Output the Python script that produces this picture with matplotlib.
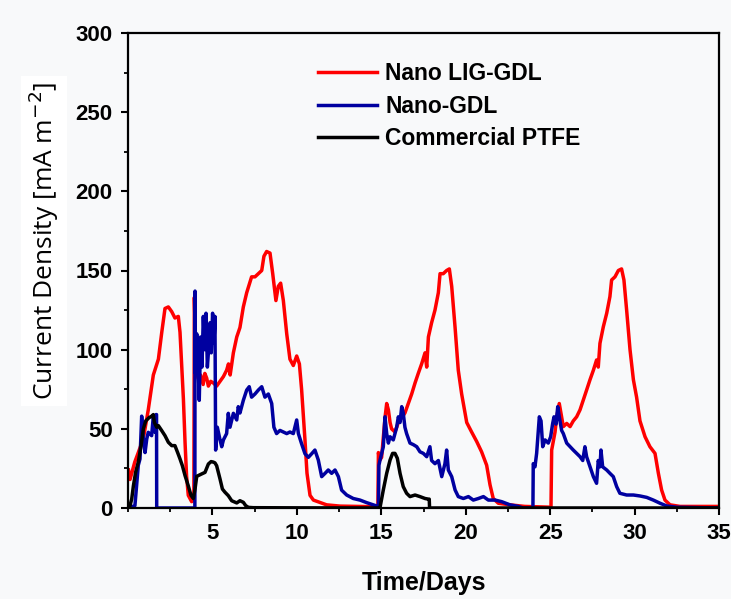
import matplotlib
matplotlib.use("Agg")
import matplotlib.pyplot as plt
from matplotlib.ticker import MultipleLocator

# ---------------- data ----------------
red_days = [0.03, 0.12, 0.22, 0.40, 0.61, 0.91, 1.20, 1.50, 1.80, 2.00, 2.19, 2.39, 2.59, 2.78,
            2.98, 3.08, 3.18, 3.28, 3.38, 3.47, 3.57, 3.77, 3.90, 3.93, 4.03, 4.15, 4.30, 4.45,
            4.55, 4.66, 4.76, 4.90, 5.05, 5.25, 5.45, 5.65, 5.84, 5.95, 6.05, 6.24, 6.44, 6.63,
            6.83, 7.03, 7.32, 7.52, 7.72, 7.92, 8.05, 8.21, 8.41, 8.57, 8.76, 8.90, 9.04, 9.20,
            9.40, 9.59, 9.79, 9.99, 10.15, 10.28, 10.48, 10.60, 10.78, 10.98, 11.76, 12.55, 14.13,
            14.80, 14.83, 14.90, 15.02, 15.22, 15.32, 15.42, 15.52, 15.61, 15.81, 16.01, 16.21,
            16.40, 16.60, 16.80, 17.00, 17.19, 17.39, 17.59, 17.69, 17.79, 17.98, 18.18, 18.38,
            18.48, 18.67, 18.87, 19.03, 19.17, 19.37, 19.56, 19.76, 20.06, 20.35, 20.65, 20.94,
            21.24, 21.44, 21.63, 21.93, 22.62, 23.50, 25.05, 25.09, 25.29, 25.39, 25.54, 25.68,
            25.78, 25.98, 26.18, 26.37, 26.57, 26.77, 26.96, 27.16, 27.36, 27.56, 27.75, 27.85,
            27.95, 28.15, 28.35, 28.54, 28.64, 28.84, 29.04, 29.23, 29.37, 29.53, 29.73, 29.93,
            30.12, 30.32, 30.62, 30.91, 31.21, 31.41, 31.60, 31.80, 32.10, 32.69, 35.00]
red_vals = [24, 18, 22, 29, 35, 44, 62, 84, 94, 111, 126, 127, 124, 120,
            121, 111, 90, 69, 41, 20, 8, 4, 5, 133, 89, 82, 84, 78,
            85, 82, 77, 80, 79, 77, 80, 83, 87, 91, 84, 98, 108, 114,
            127, 136, 146, 146, 148, 150, 159, 162, 161, 148, 131, 140, 142, 131,
            110, 94, 90, 96, 91, 75, 43, 22, 8, 5, 2, 1.2, 0.9,
            1, 35, 30, 32, 57, 66, 62, 54, 50, 48, 54, 57,
            60, 66, 72, 79, 85, 91, 98, 89, 108, 117, 125, 136,
            148, 148, 150, 151, 140, 114, 87, 72, 54, 48, 42, 35.5,
            27, 14.6, 6, 3, 2, 1, 0.5, 36.6, 48, 57.6, 66, 57.6,
            51.4, 53.4, 51.4, 55, 57.6, 62, 68, 74.5, 81, 87, 93.5, 89,
            104, 114.5, 123, 133.5, 144, 146, 150, 151, 144, 125, 100, 81,
            70, 55, 45, 38.7, 34.5, 21.9, 11.4, 5, 2, 1, 1]

blue_days = [0.00, 0.41, 0.51, 0.61, 0.71, 0.81, 0.91, 1.01, 1.11, 1.20, 1.40, 1.50, 1.60,
             1.66, 1.69, 1.70, 3.96, 3.97, 4.00, 4.07, 4.17, 4.22, 4.30, 4.38, 4.46, 4.54,
             4.62, 4.70, 4.78, 4.86, 4.93, 5.01, 5.09, 5.15, 5.19, 5.29, 5.45, 5.55, 5.65,
             5.84, 5.94, 6.04, 6.24, 6.44, 6.53, 6.63, 6.83, 7.03, 7.18, 7.32, 7.52, 7.72,
             7.92, 8.11, 8.31, 8.51, 8.64, 8.80, 9.00, 9.20, 9.40, 9.59, 9.79, 9.99, 10.09,
             10.28, 10.48, 10.68, 10.88, 11.07, 11.27, 11.47, 11.67, 11.86, 12.06, 12.26,
             12.46, 12.65, 12.95, 13.34, 13.74, 14.13, 14.53, 14.83, 14.86, 14.92, 15.12,
             15.22, 15.32, 15.42, 15.52, 15.71, 15.81, 15.91, 16.01, 16.11, 16.21, 16.30,
             16.40, 16.50, 16.70, 16.90, 17.10, 17.29, 17.49, 17.69, 17.88, 17.98, 18.18,
             18.38, 18.58, 18.77, 18.87, 18.97, 19.17, 19.37, 19.56, 19.86, 20.16, 20.45,
             20.75, 21.05, 21.34, 21.74, 22.13, 22.62, 23.12, 23.40, 23.98, 24.00, 24.10,
             24.20, 24.36, 24.46, 24.56, 24.70, 24.89, 25.03, 25.15, 25.23, 25.35, 25.45,
             25.54, 25.68, 25.78, 25.98, 26.18, 26.37, 26.57, 26.77, 26.93, 27.06, 27.16,
             27.36, 27.56, 27.75, 27.85, 27.95, 28.01, 28.11, 28.35, 28.54, 28.74, 28.94,
             29.13, 29.53, 29.93, 30.32, 30.72, 31.11, 31.51, 31.90, 32.50, 35.00]
blue_vals = [0, 1.5, 14, 27, 31, 58, 43.6, 35, 43.6, 47.8, 45.7, 58, 47.8,
             59, 59, 0, 0, 137, 85, 110, 85, 68, 108, 89, 121, 100,
             123, 89, 101, 117, 98, 123, 104, 121, 36.6, 51, 43, 38.7, 43,
             47, 59.8, 51, 59.8, 55.6, 64, 60, 68, 74.5, 76.6, 70, 72, 74.5,
             76.6, 70, 72, 66, 51, 47, 49, 48, 47, 48, 47, 55.6, 47,
             40.6, 34.3, 32, 34.3, 36.6, 30.3, 19.8, 21.9, 24, 21.9, 24,
             19.8, 11.3, 8.2, 6, 5, 3.4, 2, 0.9, 27, 30, 38.7,
             57.6, 47, 41, 45, 43, 47, 51, 57.6, 54, 64, 60,
             51, 47, 41, 40, 38.7, 35.5, 34.5, 32.4, 38.7, 30, 28,
             30, 19.8, 28, 36.6, 24, 19.8, 11.4, 7.2, 6, 7.2, 5,
             6, 7.2, 5, 5, 4, 2, 1, 0, 0, 28, 26,
             34.5, 57.6, 55, 38.7, 43, 41, 45, 53.4, 57.6, 53, 64,
             57.6, 49, 47, 41, 38.7, 36.6, 34.5, 32.4, 30, 38.7, 32.4,
             26, 19.8, 15.6, 30, 26, 36.6, 26, 24, 21.9, 19.8, 13.5,
             9.3, 8.2, 8.2, 7.6, 6.7, 5, 3, 1.3, 0.5, 0]

black_days = [0.00, 0.12, 0.22, 0.32, 0.45, 0.61, 0.77, 0.91, 1.05, 1.24, 1.40, 1.50, 1.56,
              1.70, 1.80, 1.99, 2.19, 2.39, 2.59, 2.78, 2.94, 3.08, 3.22, 3.38, 3.57, 3.73,
              3.87, 3.97, 4.07, 4.36, 4.56, 4.76, 4.92, 5.05, 5.15, 5.25, 5.45, 5.59, 5.74,
              5.94, 6.14, 6.44, 6.63, 6.83, 6.97, 7.13, 7.42, 10.00, 14.90, 14.92, 15.12,
              15.32, 15.52, 15.67, 15.81, 15.95, 16.11, 16.30, 16.50, 16.70, 17.00, 17.29,
              17.59, 17.79, 17.84, 17.86, 35.00]
black_vals = [0, 1.5, 5.7, 14, 22.5, 29, 39, 50, 55, 57, 58, 59, 54,
              51, 52, 49, 45.7, 41.5, 39.4, 39.4, 35, 31, 26.7, 20.4, 14, 8,
              6, 12, 20, 21.5, 22.5, 27.8, 29.3, 29, 28.5, 26.7, 18.3, 12, 10,
              7.8, 4.6, 3.2, 4.6, 3.6, 1.5, 0.4, 0.2, 0.1, 0, 0, 11.4,
              21.9, 30.3, 34.5, 34.5, 31.4, 21.9, 13.5, 9.3, 7.2, 8.2, 7.2,
              6, 5.6, 5.6, 0, 0]

series_names = ["Nano LIG-GDL", "Nano-GDL", "Commercial PTFE"]
series_colors = ["#ff0000", "#0000a0", "#000000"]

x_ticks = [5, 10, 15, 20, 25, 30, 35]
y_ticks = [0, 50, 100, 150, 200, 250, 300]

# ---------------- figure ----------------
BG = "#f8f9fa"
fig = plt.figure(figsize=(7.31, 5.99), dpi=100, facecolor=BG)
ax = fig.add_axes([128/731, 1 - 508/599, (719-128)/731, (508-33)/599], facecolor=BG)

for d, v, name, col in zip([red_days, blue_days, black_days],
                           [red_vals, blue_vals, black_vals],
                           series_names, series_colors):
    ax.plot(d, v, color=col, lw=2.5, label=name, solid_joinstyle="round")

ax.set_xlim(0, 35)
ax.set_ylim(0, 300)
ax.set_xticks(x_ticks)
ax.set_yticks(y_ticks)
ax.xaxis.set_minor_locator(MultipleLocator(2.5))
ax.yaxis.set_minor_locator(MultipleLocator(25))

for s in ax.spines.values():
    s.set_linewidth(1.6)
ax.tick_params(which="major", direction="out", length=5, width=1.5, pad=6)
ax.tick_params(which="minor", direction="out", length=3, width=1.3)
for lab in ax.get_xticklabels() + ax.get_yticklabels():
    lab.set_fontfamily("Liberation Sans")
    lab.set_fontweight("bold")
    lab.set_fontsize(16)

ax.set_xlabel("Time/Days", fontsize=18, fontweight="bold", family="Liberation Sans")
ax.xaxis.set_label_coords(0.5, (508 - 571) / 475)

ax.set_ylabel("Current Density [mA m$^{-2}$]", fontsize=19, family="Open Sans",
              bbox=dict(facecolor="white", edgecolor="none", pad=4))
ax.yaxis.set_label_coords((61 - 128) / 591, (508 - 241) / 475)

leg = ax.legend(loc="upper left", bbox_to_anchor=((318 - 128) / 591, (508 - 62) / 475),
                frameon=False, borderpad=0, borderaxespad=0, handlelength=2.58,
                handletextpad=0.35, labelspacing=0.42,
                prop=dict(family="Liberation Sans", weight="bold", size=16.5))
for h in leg.get_lines():
    h.set_linewidth(2.5)

fig.savefig("out.png", dpi=100, facecolor=BG)
